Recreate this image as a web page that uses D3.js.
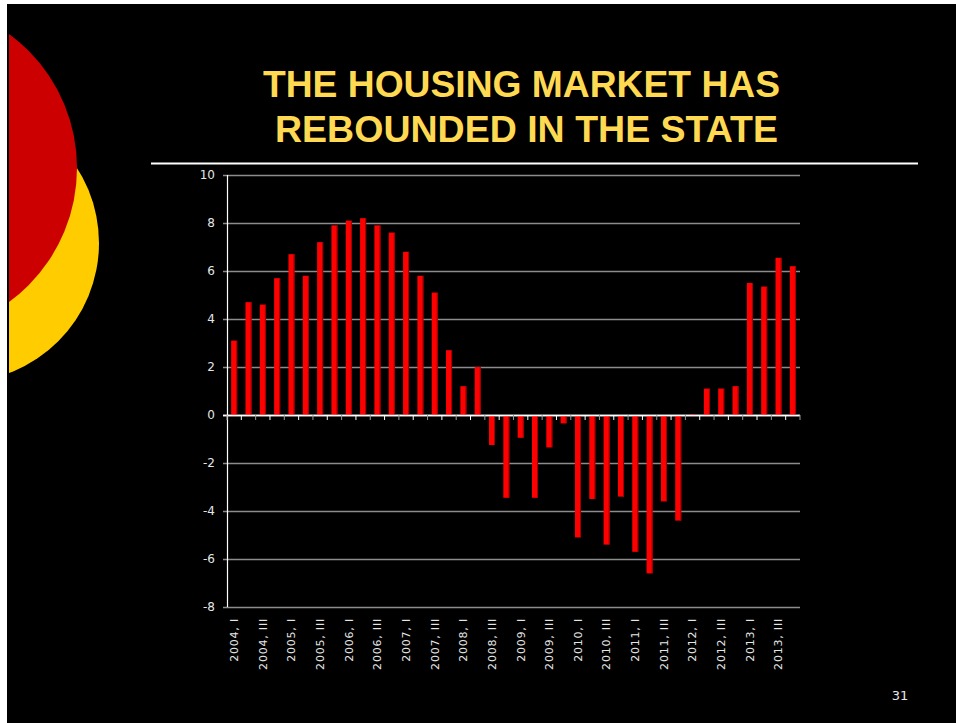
<!DOCTYPE html>
<html>
<head>
<meta charset="utf-8">
<script src="https://cdn.jsdelivr.net/npm/d3@7"></script>
<style>
  body { margin: 0; background: #fff; }
  svg { display: block; }
  .tick-label { font-family: "DejaVu Sans", sans-serif; font-size: 12px; fill: #e6e6e6; }
  .x-label { font-size: 11px; letter-spacing: 0.8px; }
  .title { font-family: "Liberation Sans", Arial, sans-serif; font-weight: bold; font-size: 36px; fill: #ffd952; }
</style>
</head>
<body>
<div id="chart"></div>
<script>
var windowsWidth = 956,
  windowsHeight = 723,
  plot = { left: 227, right: 800, top: 175, bottom: 607 };

var years = ["2004", "2005", "2006", "2007", "2008", "2009", "2010", "2011", "2012", "2013"],
  quarterNames = ["I", "II", "III", "IV"],
  titleLines = ["THE HOUSING MARKET HAS", "REBOUNDED IN THE STATE"],
  yTicks = [-8, -6, -4, -2, 0, 2, 4, 6, 8, 10],
  pageNumber = "31";

// one value per quarter, 2004 I .. 2013 IV
var values = [
  3.1, 4.7, 4.6, 5.7,
  6.7, 5.8, 7.2, 7.9,
  8.1, 8.2, 7.9, 7.6,
  6.8, 5.8, 5.1, 2.7,
  1.2, 2.0, -1.25, -3.45,
  -0.95, -3.45, -1.35, -0.35,
  -5.1, -3.5, -5.4, -3.4,
  -5.7, -6.6, -3.6, -4.4,
  0.03, 1.1, 1.1, 1.2,
  5.5, 5.35, 6.55, 6.2
];

var quarters = [];
years.forEach(function(y){
  quarterNames.forEach(function(q){ quarters.push(y + ", " + q); });
});
var data = quarters.map(function(q, i){ return { label: q, value: values[i], idx: i }; });

var svg = d3.select("#chart").append("svg")
  .attr("width", windowsWidth)
  .attr("height", windowsHeight);

// slide background
svg.append("rect")
  .attr("x", 7).attr("y", 4)
  .attr("width", windowsWidth - 7).attr("height", windowsHeight - 4)
  .style("fill", "#000");

svg.append("clipPath").attr("id", "slideClip")
  .append("rect").attr("x", 9).attr("y", 4).attr("width", 300).attr("height", 500);

var deco = svg.append("g").attr("clip-path", "url(#slideClip)");
deco.append("circle").attr("cx", -40).attr("cy", 243).attr("r", 139).style("fill", "#ffcc00");
deco.append("circle").attr("cx", -89).attr("cy", 168).attr("r", 166).style("fill", "#cc0000");

// title
var titleWidths = [517, 503];
svg.selectAll(".title")
  .data(titleLines).enter().append("text")
  .attr("class", "title")
  .attr("x", function(d, i){ return i == 0 ? 521.5 : 526.5; })
  .attr("y", function(d, i){ return 97 + i*45; })
  .attr("textLength", function(d, i){ return titleWidths[i]; })
  .attr("lengthAdjust", "spacingAndGlyphs")
  .style("text-anchor", "middle")
  .text(function(d){ return d; });

svg.append("line")
  .attr("x1", 151).attr("x2", 918)
  .attr("y1", 163.5).attr("y2", 163.5)
  .style("stroke", "#fff").style("stroke-width", 2);

var x = d3.scaleBand()
  .domain(quarters)
  .range([plot.left, plot.right])
  .paddingInner(0.58)
  .paddingOuter(0.29);

var y = d3.scaleLinear()
  .domain([-8, 10])
  .range([plot.bottom, plot.top]);

// gridlines
svg.selectAll(".grid")
  .data(yTicks).enter().append("line")
  .attr("class", "grid")
  .attr("x1", plot.left - 4).attr("x2", plot.right)
  .attr("y1", function(d){ return Math.round(y(d)) + 0.5; })
  .attr("y2", function(d){ return Math.round(y(d)) + 0.5; })
  .style("stroke", function(d){ return d == 0 ? "#fff" : "#8c8c8c"; })
  .style("stroke-width", 1.5);

// y labels
svg.selectAll(".ylab")
  .data(yTicks).enter().append("text")
  .attr("class", "tick-label")
  .attr("x", plot.left - 12)
  .attr("y", function(d){ return y(d); })
  .attr("dy", "0.35em")
  .style("text-anchor", "end")
  .text(function(d){ return d; });

// bars
var bars = svg.selectAll(".bar")
  .data(data).enter().append("g")
  .attr("class", "bar");

bars.append("rect")
  .attr("x", function(d){ return x(d.label); })
  .attr("y", function(d){ return y(Math.max(0, d.value)); })
  .attr("width", x.bandwidth())
  .attr("height", function(d){ return Math.abs(y(d.value) - y(0)); })
  .style("fill", "#ff0000");

bars.append("rect")
  .attr("x", function(d){ return x(d.label) + x.bandwidth() - 1; })
  .attr("y", function(d){ return y(Math.max(0, d.value)); })
  .attr("width", 1)
  .attr("height", function(d){ return Math.abs(y(d.value) - y(0)); })
  .style("fill", "#a00000");

// y axis line
svg.append("line")
  .attr("x1", plot.left + 0.5).attr("x2", plot.left + 0.5)
  .attr("y1", plot.top).attr("y2", plot.bottom)
  .style("stroke", "#fff").style("stroke-width", 1.2);

// zero axis and category ticks
svg.append("line")
  .attr("x1", plot.left - 4).attr("x2", plot.right)
  .attr("y1", Math.round(y(0)) + 0.5).attr("y2", Math.round(y(0)) + 0.5)
  .style("stroke", "#fff").style("stroke-width", 1.5);

svg.selectAll(".ctick")
  .data(d3.range(quarters.length + 1)).enter().append("line")
  .attr("class", "ctick")
  .attr("x1", function(d){ return plot.left + d*x.step(); })
  .attr("x2", function(d){ return plot.left + d*x.step(); })
  .attr("y1", y(0)).attr("y2", y(0) + 5)
  .style("stroke", function(d){ return d % 2 ? "#fff" : "#999"; })
  .style("stroke-width", 1);

// category labels, every other quarter
svg.selectAll(".xlab")
  .data(data.filter(function(d){ return d.idx % 2 == 0; })).enter().append("text")
  .attr("class", "tick-label x-label")
  .attr("transform", function(d){
    return "translate(" + (x(d.label) + x.bandwidth()/2) + "," + (plot.bottom + 11) + ") rotate(-90)";
  })
  .attr("dy", "0.35em")
  .style("text-anchor", "end")
  .text(function(d){ return d.label; });

svg.append("text")
  .attr("class", "tick-label")
  .attr("x", 900).attr("y", 700)
  .style("font-size", "13px")
  .style("text-anchor", "middle")
  .text(pageNumber);
</script>
</body>
</html>
